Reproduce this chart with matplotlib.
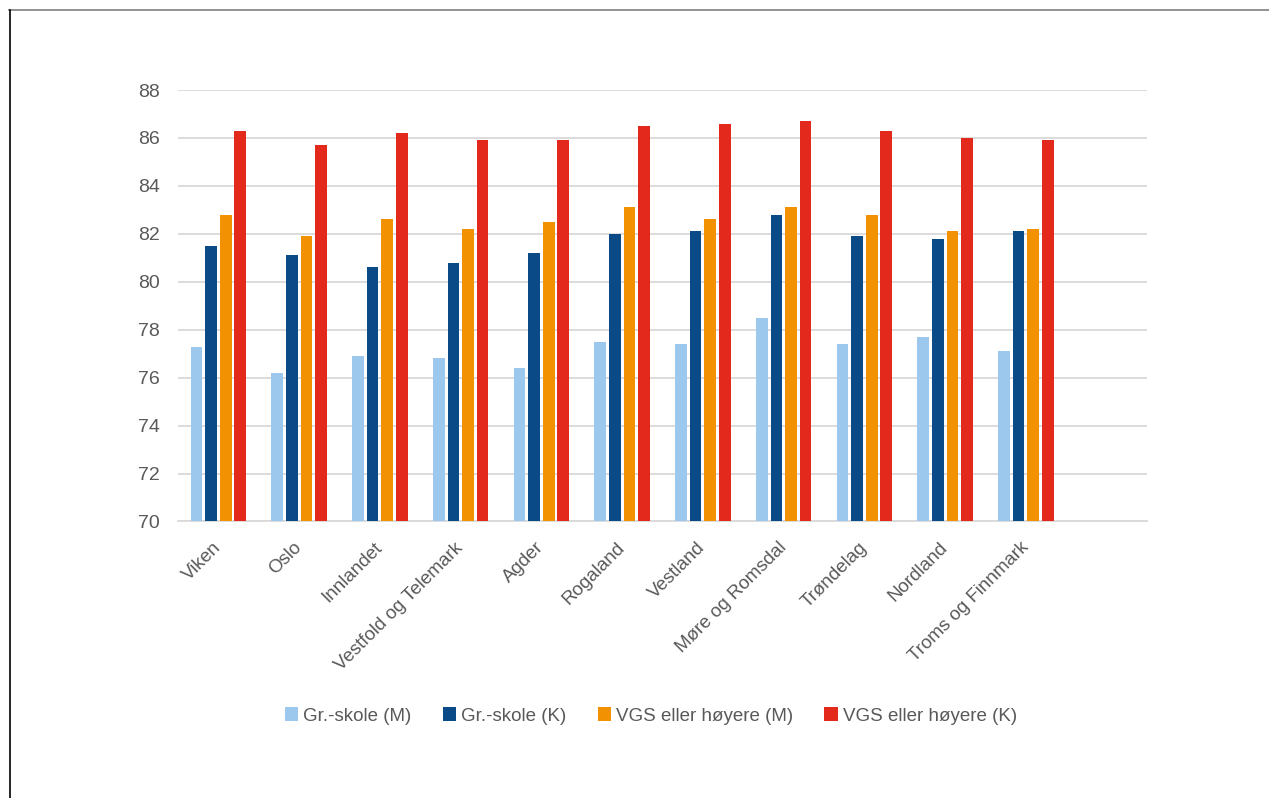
"""
Utdanning og forventet levealder etter fylke – stolpediagram
"""
import matplotlib
matplotlib.use('Agg')
import matplotlib.pyplot as plt
import numpy as np
from matplotlib.lines import Line2D
from matplotlib.patches import Patch

plt.rcParams['font.family'] = ['Liberation Sans', 'DejaVu Sans']

# Data lest av figuren
fylker = ['Viken', 'Oslo', 'Innlandet', 'Vestfold og Telemark', 'Agder', 'Rogaland',
          'Vestland', 'Møre og Romsdal', 'Trøndelag', 'Nordland', 'Troms og Finnmark']
gr_skole_m = [77.3, 76.2, 76.9, 76.8, 76.4, 77.5, 77.4, 78.5, 77.4, 77.7, 77.1]
gr_skole_k = [81.5, 81.1, 80.6, 80.8, 81.2, 82.0, 82.1, 82.8, 81.9, 81.8, 82.1]
vgs_m = [82.8, 81.9, 82.6, 82.2, 82.5, 83.1, 82.6, 83.1, 82.8, 82.1, 82.2]
vgs_k = [86.3, 85.7, 86.2, 85.9, 85.9, 86.5, 86.6, 86.7, 86.3, 86.0, 85.9]

serier = ['Gr.-skole (M)', 'Gr.-skole (K)', 'VGS eller høyere (M)', 'VGS eller høyere (K)']
farger = ['#9BC8EC', '#0A4A87', '#F29203', '#E3291C']
tekstfarge = '#595959'
gridfarge = '#D9D9D9'

fig = plt.figure(figsize=(12.69, 7.98), dpi=100)
ax = fig.add_axes([0.1403, 0.3465, 0.9039 - 0.1403, 0.8872 - 0.3465])

x = np.arange(len(fylker))
steg = 0.181
bredde = 0.145
for i, (verdier, farge) in enumerate(zip([gr_skole_m, gr_skole_k, vgs_m, vgs_k], farger)):
    ax.bar(x + (i - 1.5) * steg, np.array(verdier) - 70, bottom=70, width=bredde,
           color=farge, zorder=3)

ax.set_xlim(-0.5, 11.5)
ax.set_ylim(70, 88)
ax.set_yticks(np.arange(70, 89, 2))
ax.yaxis.grid(True, color=gridfarge, linewidth=1.3, zorder=0)
ax.set_axisbelow(True)
for side in ['top', 'right', 'left']:
    ax.spines[side].set_visible(False)
ax.spines['bottom'].set_color(gridfarge)
ax.spines['bottom'].set_linewidth(1.3)
ax.tick_params(axis='both', length=0, colors=tekstfarge)
ax.tick_params(axis='y', pad=13, labelsize=14)

ax.set_xticks(x)
ax.set_xticklabels(fylker, rotation=45, ha='right', va='center', rotation_mode='anchor',
                   color=tekstfarge, fontsize=13.5)
ax.tick_params(axis='x', pad=17)

handles = [Patch(facecolor=f, edgecolor='none') for f in farger]
fig.legend(handles, serier, loc='center', bbox_to_anchor=(651 / 1269, 1 - 716 / 798),
           ncol=4, frameon=False, fontsize=13.5, handlelength=0.7, handleheight=0.7,
           handletextpad=0.3, columnspacing=1.65, labelcolor=tekstfarge)

# ramme (topp og venstre)
fig.add_artist(Line2D([9 / 1269, 1], [1 - 10 / 798, 1 - 10 / 798], color='#808080',
                      linewidth=1.2, transform=fig.transFigure))
fig.add_artist(Line2D([9.5 / 1269, 9.5 / 1269], [0, 1 - 10 / 798], color='black',
                      linewidth=1.2, transform=fig.transFigure))

plt.savefig('out.png', dpi=100)
plt.close()
